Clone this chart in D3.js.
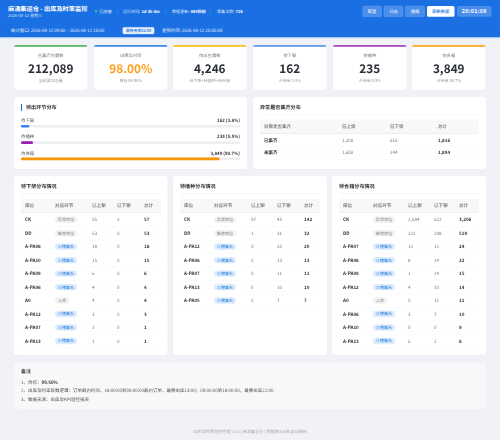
<!DOCTYPE html>
<html>
<head>
<meta charset="utf-8">
<script src="https://cdn.jsdelivr.net/npm/d3@7"></script>
<style>
  html, body { margin: 0; padding: 0; background: #f0f2f7; overflow: hidden; }
  svg { display: block; font-family: "Noto Sans CJK SC", "Noto Sans", sans-serif; text-rendering: geometricPrecision; filter: blur(0.25px); }
</style>
</head>
<body>
<svg></svg>
<script>
// Dashboard values
const kpiLabels = ["已集齐包裹数", "出库及时率", "待出包裹数", "待下架", "待播种", "待合箱"];
const kpiValues = ["212,089", "98.00%", "4,246", "162", "235", "3,849"];
const kpiNotes = ["当前波次总量", "目标 99.50%", "待下架+待播种+待合箱", "占待出 3.8%", "占待出 5.5%", "占待出 90.7%"];
const kpiColors = ["#5cb96b", "#3f8ae8", "#f7c325", "#629bf0", "#ab47bc", "#ffa726"];

const stageNames = ["待下架", "待播种", "待合箱"];
const stageCounts = ["162", "235", "3,849"];
const stageShares = [3.8, 5.5, 90.7];
const stageColors = ["#3b82f0", "#9c1fb5", "#fb9300"];

const exceptionHeader = ["异常是否集齐", "已上架", "已下架", "总计"];
const exceptionRows = [
  ["已集齐", "1,200", "616", "1,816"],
  ["未集齐", "1,650", "244", "1,894"],
];

const tableHeader = ["库位", "对应环节", "已上架", "已下架", "总计"];
const downTable = [
  ["CK", "异常库位", "55", "2", "57"],
  ["DD", "推荐库位", "53", "0", "53"],
  ["A-PA08", "三楼集合", "18", "0", "18"],
  ["A-PA10", "三楼集合", "15", "0", "15"],
  ["A-PA09", "三楼集合", "6", "0", "6"],
  ["A-PA06", "三楼集合", "4", "0", "4"],
  ["A0", "入库", "4", "0", "4"],
  ["A-PA12", "三楼集合", "3", "0", "3"],
  ["A-PA07", "三楼集合", "1", "0", "1"],
  ["A-PA13", "三楼集合", "1", "0", "1"],
];
const seedTable = [
  ["CK", "异常库位", "97", "45", "142"],
  ["DD", "推荐库位", "1", "31", "32"],
  ["A-PA12", "三楼集合", "0", "20", "20"],
  ["A-PA06", "三楼集合", "0", "13", "13"],
  ["A-PA07", "三楼集合", "0", "11", "11"],
  ["A-PA13", "三楼集合", "0", "10", "10"],
  ["A-PA05", "三楼集合", "0", "7", "7"],
];
const packTable = [
  ["CK", "异常库位", "2,584", "622", "3,206"],
  ["DD", "推荐库位", "221", "298", "519"],
  ["A-PA07", "三楼集合", "12", "12", "24"],
  ["A-PA08", "三楼集合", "8", "14", "22"],
  ["A-PA09", "三楼集合", "1", "14", "15"],
  ["A-PA12", "三楼集合", "4", "10", "14"],
  ["A0", "入库", "0", "11", "11"],
  ["A-PA06", "三楼集合", "3", "7", "10"],
  ["A-PA10", "三楼集合", "9", "0", "9"],
  ["A-PA13", "三楼集合", "6", "2", "8"],
];

const buttonLabels = ["配置", "日志", "播报", "刷新数据"];

const width = 500;
const height = 440;

const svg = d3.select("svg").attr("width", width).attr("height", height);

function text(parent, x, y, str, size, fill, weight, anchor) {
  return parent
    .append("text")
    .attr("x", x)
    .attr("y", y)
    .attr("dy", "0.35em")
    .attr("font-size", size)
    .attr("fill", fill)
    .attr("font-weight", weight || 400)
    .attr("text-anchor", anchor || "start")
    .text(str);
}

function panel(x, y, w, h) {
  const g = svg.append("g");
  g.append("rect").attr("x", x).attr("y", y + 0.5).attr("width", w).attr("height", h)
    .attr("rx", 3.5).attr("fill", "#e6e9f0").attr("opacity", 0.6);
  g.append("rect").attr("x", x).attr("y", y).attr("width", w).attr("height", h)
    .attr("rx", 3.5).attr("fill", "#fff");
  return g;
}

// ---- Header ----
svg.append("rect").attr("width", width).attr("height", 38).attr("fill", "#1a6fe3");
svg.append("rect").attr("y", 37).attr("width", width).attr("height", 1.2).attr("fill", "#a9c9f7");

text(svg, 8, 9, "麻涌集运仓 - 出库及时率监控", 6.2, "#fff", 700);
text(svg, 8, 15.7, "2026-08-12 星期三", 4.1, "#cfe0fb");

svg.append("circle").attr("cx", 96).attr("cy", 11.3).attr("r", 1).attr("fill", "#4ade80");
text(svg, 99, 11.3, "已连接", 4.2, "#e3eefd");

const statusItems = [
  { x: 123, label: "运行时间: ", value: "1d 3h 0m" },
  { x: 172, label: "数据更新: ", value: "598秒前" },
  { x: 217, label: "采集次数: ", value: "726" },
];
statusItems.forEach((d) => {
  const t = text(svg, d.x, 11.3, d.label, 4.1, "#d6e5fc");
  t.append("tspan").attr("font-weight", 700).attr("fill", "#fff").text(d.value);
});
[117, 165, 210].forEach((x) => {
  svg.append("rect").attr("x", x).attr("y", 9.5).attr("width", 0.4).attr("height", 4)
    .attr("fill", "#fff").attr("opacity", 0.3);
});

text(svg, 11, 30.7, "统计窗口: 2026-08-12 09:00 ~ 2026-08-12 18:00", 4.4, "#e6effd");
svg.append("rect").attr("x", 122.7).attr("y", 27.3).attr("width", 31.5).attr("height", 6.8)
  .attr("rx", 1.5).attr("fill", "#eef4fe").attr("stroke", "#a9c9f7").attr("stroke-width", 0.4);
text(svg, 138.5, 30.7, "最晚完成22:00", 3.9, "#1a6fe3", 500, "middle");
text(svg, 162, 30.7, "更新时间: 2026-08-12 20:00:08", 4.4, "#e6effd");

const buttonX = d3.scaleOrdinal().domain(buttonLabels).range([362.7, 384, 405.5, 427]);
const buttonW = d3.scaleOrdinal().domain(buttonLabels).range([18.8, 19, 19, 27.5]);
buttonLabels.forEach((label, i) => {
  const primary = i === 3;
  svg.append("rect").attr("x", buttonX(label)).attr("y", 6).attr("width", buttonW(label)).attr("height", 10.7)
    .attr("rx", 1.5).attr("fill", primary ? "#fff" : "#4a8deb")
    .attr("stroke", primary ? "none" : "#6ba3f0").attr("stroke-width", 0.4);
  text(svg, buttonX(label) + buttonW(label) / 2, 11.4, label, 4.3, primary ? "#1a6fe3" : "#e6effd", 500, "middle");
});
svg.append("rect").attr("x", 457).attr("y", 6).attr("width", 34.5).attr("height", 10.7)
  .attr("rx", 2).attr("fill", "#4a8deb");
text(svg, 474.2, 11.4, "20:01:08", 5.4, "#fff", 700, "middle")
  .attr("letter-spacing", 0.3);

// ---- KPI cards ----
const cardX = d3.scaleOrdinal().domain(kpiLabels).range([14, 94, 173, 253, 333, 412]);
kpiLabels.forEach((label, i) => {
  const x = cardX(label);
  const w = 73.5;
  panel(x, 45, w, 45);
  const clip = "card" + i;
  svg.append("clipPath").attr("id", clip).append("rect")
    .attr("x", x).attr("y", 45).attr("width", w).attr("height", 8).attr("rx", 2);
  svg.append("rect").attr("x", x).attr("y", 45).attr("width", w).attr("height", 1.8)
    .attr("fill", kpiColors[i]).attr("clip-path", `url(#${clip})`);
  text(svg, x + w / 2, 55.3, label, 4.3, "#777", 400, "middle");
  text(svg, x + w / 2, 68.7, kpiValues[i], 11.8, i === 1 ? "#ff9f1c" : "#2b2f36", 700, "middle");
  text(svg, x + w / 2, 80.7, kpiNotes[i], 4, "#999", 400, "middle");
});

// ---- Stage share bars ----
panel(14, 97, 233, 72);
svg.append("rect").attr("x", 21).attr("y", 104).attr("width", 1).attr("height", 7).attr("fill", "#1a6fe3");
text(svg, 26, 107.5, "待出环节分布", 5.1, "#333", 700);

const shareX = d3.scaleLinear().domain([0, 100]).range([21, 240]);
const stageY = d3.scalePoint().domain(stageNames).range([120.3, 153]);

stageNames.forEach((name, i) => {
  const y = stageY(name);
  text(svg, 21, y, name, 4.4, "#555");
  text(svg, 240, y, `${stageCounts[i]} (${stageShares[i]}%)`, 4.4, "#333", 700, "end");
  svg.append("rect").attr("x", shareX(0)).attr("y", y + 4.6)
    .attr("width", shareX(100) - shareX(0)).attr("height", 2.7).attr("rx", 1.3).attr("fill", "#eceef1");
  svg.append("rect").attr("x", shareX(0)).attr("y", y + 4.6)
    .attr("width", shareX(stageShares[i]) - shareX(0)).attr("height", 2.7).attr("rx", 1.3).attr("fill", stageColors[i]);
});

// ---- Tables ----
function drawTable(opts) {
  const { left, right, titleY, ruleY, headTop, headBottom, colX, header, rows, rowY, size } = opts;

  text(svg, left, titleY, opts.title, 5.1, "#333", 700);
  svg.append("rect").attr("x", left).attr("y", ruleY).attr("width", right - left).attr("height", 0.4).attr("fill", "#eef0f3");

  svg.append("rect").attr("x", left).attr("y", headTop).attr("width", right - left)
    .attr("height", headBottom - headTop).attr("fill", "#f7f8fa");
  svg.append("rect").attr("x", left).attr("y", headBottom - 0.5).attr("width", right - left)
    .attr("height", 0.6).attr("fill", "#e6e8ec");

  header.forEach((h, c) => {
    text(svg, colX[c], (headTop + headBottom) / 2, h, size, "#666", 500);
  });

  rows.forEach((row, r) => {
    const y = rowY(r);
    svg.append("rect").attr("x", left).attr("y", y + opts.rowH / 2).attr("width", right - left)
      .attr("height", 0.35).attr("fill", "#f1f2f5");
    row.forEach((cell, c) => {
      if (opts.tagCol === c) {
        const isGroup = cell === "三楼集合";
        const w = cell === "入库" ? 14 : 22;
        svg.append("rect").attr("x", colX[c]).attr("y", y - 3.2).attr("width", w).attr("height", 6.4)
          .attr("rx", 3.2).attr("fill", isGroup ? "#dcecfd" : "#f1f2f4");
        text(svg, colX[c] + w / 2, y, cell, 4.1, isGroup ? "#2f7fe0" : "#888", 400, "middle");
      } else {
        const bold = c === 0 || c === row.length - 1;
        text(svg, colX[c], y, cell, size, bold ? "#333" : "#777", bold ? 700 : 400);
      }
    });
  });
}

panel(253, 97, 233, 72);
drawTable({
  title: "异常是否集齐分布",
  left: 260, right: 479, titleY: 107.5, ruleY: 114.3, headTop: 120.3, headBottom: 133.5,
  colX: [264, 342, 390, 438], header: exceptionHeader, rows: exceptionRows,
  rowY: d3.scaleLinear().domain([0, 1]).range([140, 152.7]), rowH: 12.7, size: 4.5,
});

const distRowY = d3.scaleLinear().domain([0, 9]).range([219.7, 341]);

[
  { x: 14, w: 153.5, left: 21, right: 161, title: "待下架分布情况", rows: downTable, colX: [25, 55, 92, 117, 144] },
  { x: 173, w: 154, left: 180, right: 320, title: "待播种分布情况", rows: seedTable, colX: [184, 214, 251, 277, 304] },
  { x: 332, w: 154, left: 339, right: 479, title: "待合箱分布情况", rows: packTable, colX: [343, 373, 408, 434, 459] },
].forEach((t) => {
  panel(t.x, 176, t.w, 179);
  drawTable({
    title: t.title, left: t.left, right: t.right, titleY: 186.3, ruleY: 193, headTop: 199, headBottom: 212.5,
    colX: t.colX, header: tableHeader, rows: t.rows, rowY: distRowY, rowH: 13.5, size: 4.6, tagCol: 1,
  });
});

// ---- Notes ----
svg.append("rect").attr("x", 14).attr("y", 363).attr("width", 472).attr("height", 46)
  .attr("rx", 3.5).attr("fill", "#f7f8fa");
text(svg, 21, 371, "备注", 5, "#333", 700);
const noteGoal = text(svg, 21, 382, "1、目标：", 4.5, "#555");
noteGoal.append("tspan").attr("font-weight", 700).attr("fill", "#333").text("99.50%");
text(svg, 21, 390.7, "2、出库及时率取数逻辑：订单截内时间、18:00:00到09:00:00截内订单，最晚出库13:00；09:00:00到18:00:00，最晚出库22:00", 4.5, "#555");
text(svg, 21, 399, "3、数据来源：出库及KPI监控报表", 4.5, "#555");

// ---- Footer ----
text(svg, 250, 431.5, "出库及时率监控看板 v1.0 | 麻涌集运仓 | 数据每300秒自动刷新", 4.2, "#aaa", 400, "middle");
</script>
</body>
</html>
